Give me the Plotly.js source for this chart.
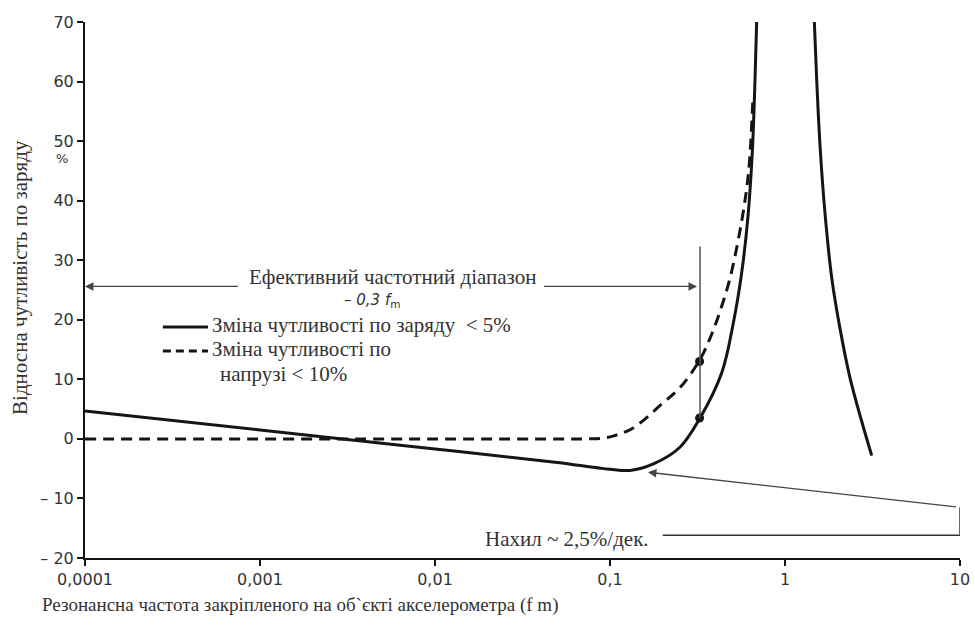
<!DOCTYPE html>
<html>
<head>
<meta charset="utf-8">
<script src="https://cdn.plot.ly/plotly-3.0.1.min.js"></script>
<style>html,body{margin:0;padding:0;background:#fff;}#chart{width:975px;height:633px;}</style>
</head>
<body>
<div id="chart"></div>
<script>
// ---- data ----
const solidX = [0.0001, 0.001, 0.01, 0.05, 0.09, 0.13, 0.177, 0.251, 0.327, 0.435, 0.507, 0.565, 0.615, 0.65, 0.674, 0.689];
const solidY = [4.7, 1.5, -1.7, -3.95, -4.95, -5.3, -4.2, -1.4, 3.5, 11.1, 19.5, 27.8, 37.5, 48, 60.4, 70.2];
const rightX = [1.47, 1.517, 1.585, 1.69, 1.85, 2.06, 2.35, 2.74, 3.13];
const rightY = [70.3, 60.4, 49.3, 38.1, 27, 18.6, 10.3, 3.0, -2.8];
const dashX = [0.0001, 0.01, 0.05, 0.075, 0.09, 0.105, 0.135, 0.2, 0.251, 0.322, 0.373, 0.425, 0.485, 0.565, 0.62, 0.655];
const dashY = [0, 0, 0, 0, 0.1, 0.5, 1.8, 6.0, 8.6, 13, 16.9, 21.4, 27, 36.5, 45, 57];
const markerX = [0.325, 0.325];
const markerY = [3.5, 13];
const xTickVals = [0.0001, 0.001, 0.01, 0.1, 1, 10];
const xTickText = ['0,0001', '0,001', '0,01', '0,1', '1', '10'];
const yTickVals = [-20, -10, 0, 10, 20, 30, 40, 50, 60, 70];
const yTickText = ['– 20', '– 10', '0', '10', '20', '30', '40', '50', '60', '70'];

const ink = '#151515';
const txt = '#333333';
const serif = '"Liberation Serif", "DejaVu Serif", "Times New Roman", Times, serif';
const sans = '"DejaVu Sans", Verdana, sans-serif';

const traces = [
  {x: solidX, y: solidY, mode: 'lines', line: {color: ink, width: 3, shape: 'spline', smoothing: 1}, hoverinfo: 'skip'},
  {x: rightX, y: rightY, mode: 'lines', line: {color: ink, width: 3, shape: 'spline', smoothing: 1}, hoverinfo: 'skip'},
  {x: dashX, y: dashY, mode: 'lines', line: {color: ink, width: 3, dash: '11px,7px', shape: 'spline', smoothing: 1}, hoverinfo: 'skip'},
  {x: markerX, y: markerY, mode: 'markers', marker: {color: ink, size: 9}, hoverinfo: 'skip'}
];

const layout = {
  width: 975, height: 633,
  margin: {l: 85, r: 15, t: 22, b: 75},
  paper_bgcolor: '#fff', plot_bgcolor: '#fff',
  showlegend: false,
  font: {family: serif, size: 18, color: txt},
  xaxis: {
    type: 'log', range: [-4, 1],
    tickvals: xTickVals, ticktext: xTickText,
    showgrid: false, zeroline: false,
    showline: true, linecolor: ink, linewidth: 2,
    ticks: 'outside', ticklen: 6, tickwidth: 2, tickcolor: ink,
    tickfont: {family: sans, size: 16, color: txt}
  },
  yaxis: {
    range: [-20, 70],
    tickvals: yTickVals, ticktext: yTickText,
    showgrid: false, zeroline: false,
    showline: true, linecolor: ink, linewidth: 2,
    ticks: 'outside', ticklen: 6, tickwidth: 2, tickcolor: ink,
    tickfont: {family: sans, size: 16, color: txt}
  },
  shapes: [
    {type: 'line', xref: 'x', yref: 'y', x0: 0.327, x1: 0.327, y0: 3.5, y1: 32.3, line: {color: '#555', width: 1.5}},
    {type: 'line', xref: 'x', yref: 'y', x0: 10, x1: 10, y0: -11.5, y1: -16.2, line: {color: '#333', width: 1.5}},
    {type: 'line', xref: 'x', yref: 'y', x0: 0.2, x1: 10, y0: -16.2, y1: -16.2, line: {color: '#333', width: 1.5}},
    {type: 'line', xref: 'paper', yref: 'paper', x0: 0.089, x1: 0.1406, y0: 0.431, y1: 0.431, line: {color: ink, width: 3}},
    {type: 'line', xref: 'paper', yref: 'paper', x0: 0.089, x1: 0.1406, y0: 0.386, y1: 0.386, line: {color: ink, width: 3, dash: '8px,5px'}}
  ],
  annotations: [
    // arrows (log10 coordinates on the x axis)
    {xref: 'x', yref: 'y', axref: 'x', ayref: 'y', x: -4, y: 25.6, ax: -3.103, ay: 25.6, text: ' ', showarrow: true, arrowhead: 2, arrowsize: 1.3, arrowwidth: 1.3, arrowcolor: '#444'},
    {xref: 'x', yref: 'y', axref: 'x', ayref: 'y', x: -0.503, y: 25.6, ax: -1.4, ay: 25.6, text: ' ', showarrow: true, arrowhead: 2, arrowsize: 1.3, arrowwidth: 1.3, arrowcolor: '#444'},
    {xref: 'x', yref: 'y', axref: 'x', ayref: 'y', x: -0.783, y: -5.6, ax: 1, ay: -11.5, text: ' ', showarrow: true, arrowhead: 2, arrowsize: 1.3, arrowwidth: 1.3, arrowcolor: '#444'},
    // texts
    {xref: 'paper', yref: 'paper', x: 0.3509, y: 0.5243, xanchor: 'center', yanchor: 'middle', showarrow: false,
     text: 'Ефективний частотний діапазон', font: {family: serif, size: 21, color: txt}},
    {xref: 'paper', yref: 'paper', x: 0.328, y: 0.4813, xanchor: 'center', yanchor: 'middle', showarrow: false,
     text: '– <i>0,3 f</i><sub>m</sub>', font: {family: sans, size: 15, color: txt}},
    {xref: 'paper', yref: 'paper', x: 0.1429, y: 0.4347, xanchor: 'left', yanchor: 'middle', showarrow: false,
     text: 'Зміна чутливості по заряду  &lt; 5%', font: {family: serif, size: 21, color: txt}},
    {xref: 'paper', yref: 'paper', x: 0.1429, y: 0.390, xanchor: 'left', yanchor: 'middle', showarrow: false,
     text: 'Зміна чутливості по', font: {family: serif, size: 21, color: txt}},
    {xref: 'paper', yref: 'paper', x: 0.1520, y: 0.3433, xanchor: 'left', yanchor: 'middle', showarrow: false,
     text: 'напрузі &lt; 10%', font: {family: serif, size: 21, color: txt}},
    {xref: 'paper', yref: 'paper', x: 0.4549, y: 0.0354, xanchor: 'left', yanchor: 'middle', showarrow: false,
     text: 'Нахил ~ 2,5%/дек.', font: {family: serif, size: 21, color: txt}},
    {xref: 'paper', yref: 'paper', x: -0.026, y: 0.746, xanchor: 'center', yanchor: 'middle', showarrow: false,
     text: '%', font: {family: sans, size: 13, color: txt}},
    {xref: 'paper', yref: 'paper', x: -0.0743, y: 0.5243, xanchor: 'center', yanchor: 'middle', showarrow: false, textangle: -90,
     text: 'Відносна чутливість по заряду', font: {family: serif, size: 21, color: txt}},
    {xref: 'paper', yref: 'paper', x: -0.0514, y: -0.0877, xanchor: 'left', yanchor: 'middle', showarrow: false,
     text: 'Резонансна частота закріпленого на об`єкті акселерометра (f m)', font: {family: serif, size: 19, color: txt}}
  ]
};

Plotly.newPlot('chart', traces, layout, {staticPlot: true, displayModeBar: false});
</script>
</body>
</html>
